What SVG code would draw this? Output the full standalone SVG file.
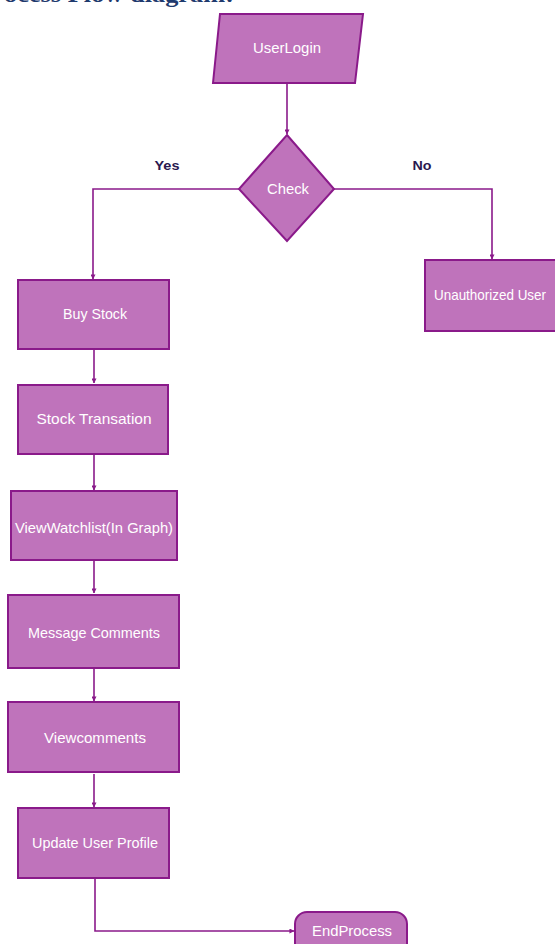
<svg xmlns="http://www.w3.org/2000/svg" width="555" height="944" viewBox="0 0 555 944">
<defs>
<marker id="arr" viewBox="0 0 6 6" refX="5.5" refY="3" markerWidth="5" markerHeight="5" orient="auto" markerUnits="userSpaceOnUse">
<path d="M0,0 L6,3 L0,6 z" fill="#8a1a8a"/>
</marker>
<style>
.shape{fill:#bf73bb;stroke:#8a1a8a;stroke-width:2}
.lbl{font-family:"Liberation Sans",Arial,sans-serif;font-size:15px;fill:#ffffff;text-anchor:middle;dominant-baseline:central}
.conn{fill:none;stroke:#8a1a8a;stroke-width:1.6}
.yn{font-family:"Liberation Sans",Arial,sans-serif;font-size:13px;font-weight:bold;fill:#2a1850;text-anchor:middle;dominant-baseline:central}
.title{font-family:"Liberation Serif","Times New Roman",serif;font-size:24px;font-weight:bold;fill:#1f3a6e}
</style>
</defs>
<rect width="555" height="944" fill="#ffffff"/>
<text class="title" x="4" y="2" textLength="230" lengthAdjust="spacingAndGlyphs">ocess Flow diagram:</text>
<g id="connectors">
<path class="conn" d="M287,83 V134" marker-end="url(#arr)"/>
<path class="conn" d="M239,189 H93 V279" marker-end="url(#arr)"/>
<path class="conn" d="M333,189 H492 V259" marker-end="url(#arr)"/>
<path class="conn" d="M94,349 V383" marker-end="url(#arr)"/>
<path class="conn" d="M94,454 V490" marker-end="url(#arr)"/>
<path class="conn" d="M94,560 V593" marker-end="url(#arr)"/>
<path class="conn" d="M94,668 V701" marker-end="url(#arr)"/>
<path class="conn" d="M94,774 V807" marker-end="url(#arr)"/>
<path class="conn" d="M95,878 V931 H294" marker-end="url(#arr)"/>
<text class="yn" x="167" y="165" textLength="25" lengthAdjust="spacingAndGlyphs">Yes</text>
<text class="yn" x="422" y="165" textLength="19" lengthAdjust="spacingAndGlyphs">No</text>
</g>
<g id="userlogin">
<path class="shape" d="M220,14 H363 L355,83 H213 Z"/>
<text class="lbl" x="287" y="47" textLength="68" lengthAdjust="spacingAndGlyphs">UserLogin</text>
</g>
<g id="check">
<path class="shape" d="M287,135 L334,189 L287,241 L239,189 Z"/>
<text class="lbl" x="288" y="188" textLength="42" lengthAdjust="spacingAndGlyphs">Check</text>
</g>
<g id="unauthorized">
<rect class="shape" x="425" y="260" width="140" height="71"/>
<text class="lbl" x="490" y="294" textLength="112" lengthAdjust="spacingAndGlyphs">Unauthorized User</text>
</g>
<g id="buystock">
<rect class="shape" x="18" y="280" width="151" height="69"/>
<text class="lbl" x="95" y="313" textLength="64" lengthAdjust="spacingAndGlyphs">Buy Stock</text>
</g>
<g id="stocktransation">
<rect class="shape" x="18" y="385" width="150" height="69"/>
<text class="lbl" x="94" y="418" textLength="115" lengthAdjust="spacingAndGlyphs">Stock Transation</text>
</g>
<g id="viewwatchlist">
<rect class="shape" x="11" y="491" width="166" height="69"/>
<text class="lbl" x="94" y="527" textLength="158" lengthAdjust="spacingAndGlyphs">ViewWatchlist(In Graph)</text>
</g>
<g id="messagecomments">
<rect class="shape" x="8" y="595" width="171" height="73"/>
<text class="lbl" x="94" y="632" textLength="132" lengthAdjust="spacingAndGlyphs">Message Comments</text>
</g>
<g id="viewcomments">
<rect class="shape" x="8" y="702" width="171" height="70"/>
<text class="lbl" x="95" y="737" textLength="102" lengthAdjust="spacingAndGlyphs">Viewcomments</text>
</g>
<g id="updateuserprofile">
<rect class="shape" x="18" y="808" width="151" height="70"/>
<text class="lbl" x="95" y="842" textLength="126" lengthAdjust="spacingAndGlyphs">Update User Profile</text>
</g>
<g id="endprocess">
<rect class="shape" x="295" y="912" width="112" height="44" rx="12" ry="12"/>
<text class="lbl" x="352" y="930" textLength="80" lengthAdjust="spacingAndGlyphs">EndProcess</text>
</g>
</svg>
